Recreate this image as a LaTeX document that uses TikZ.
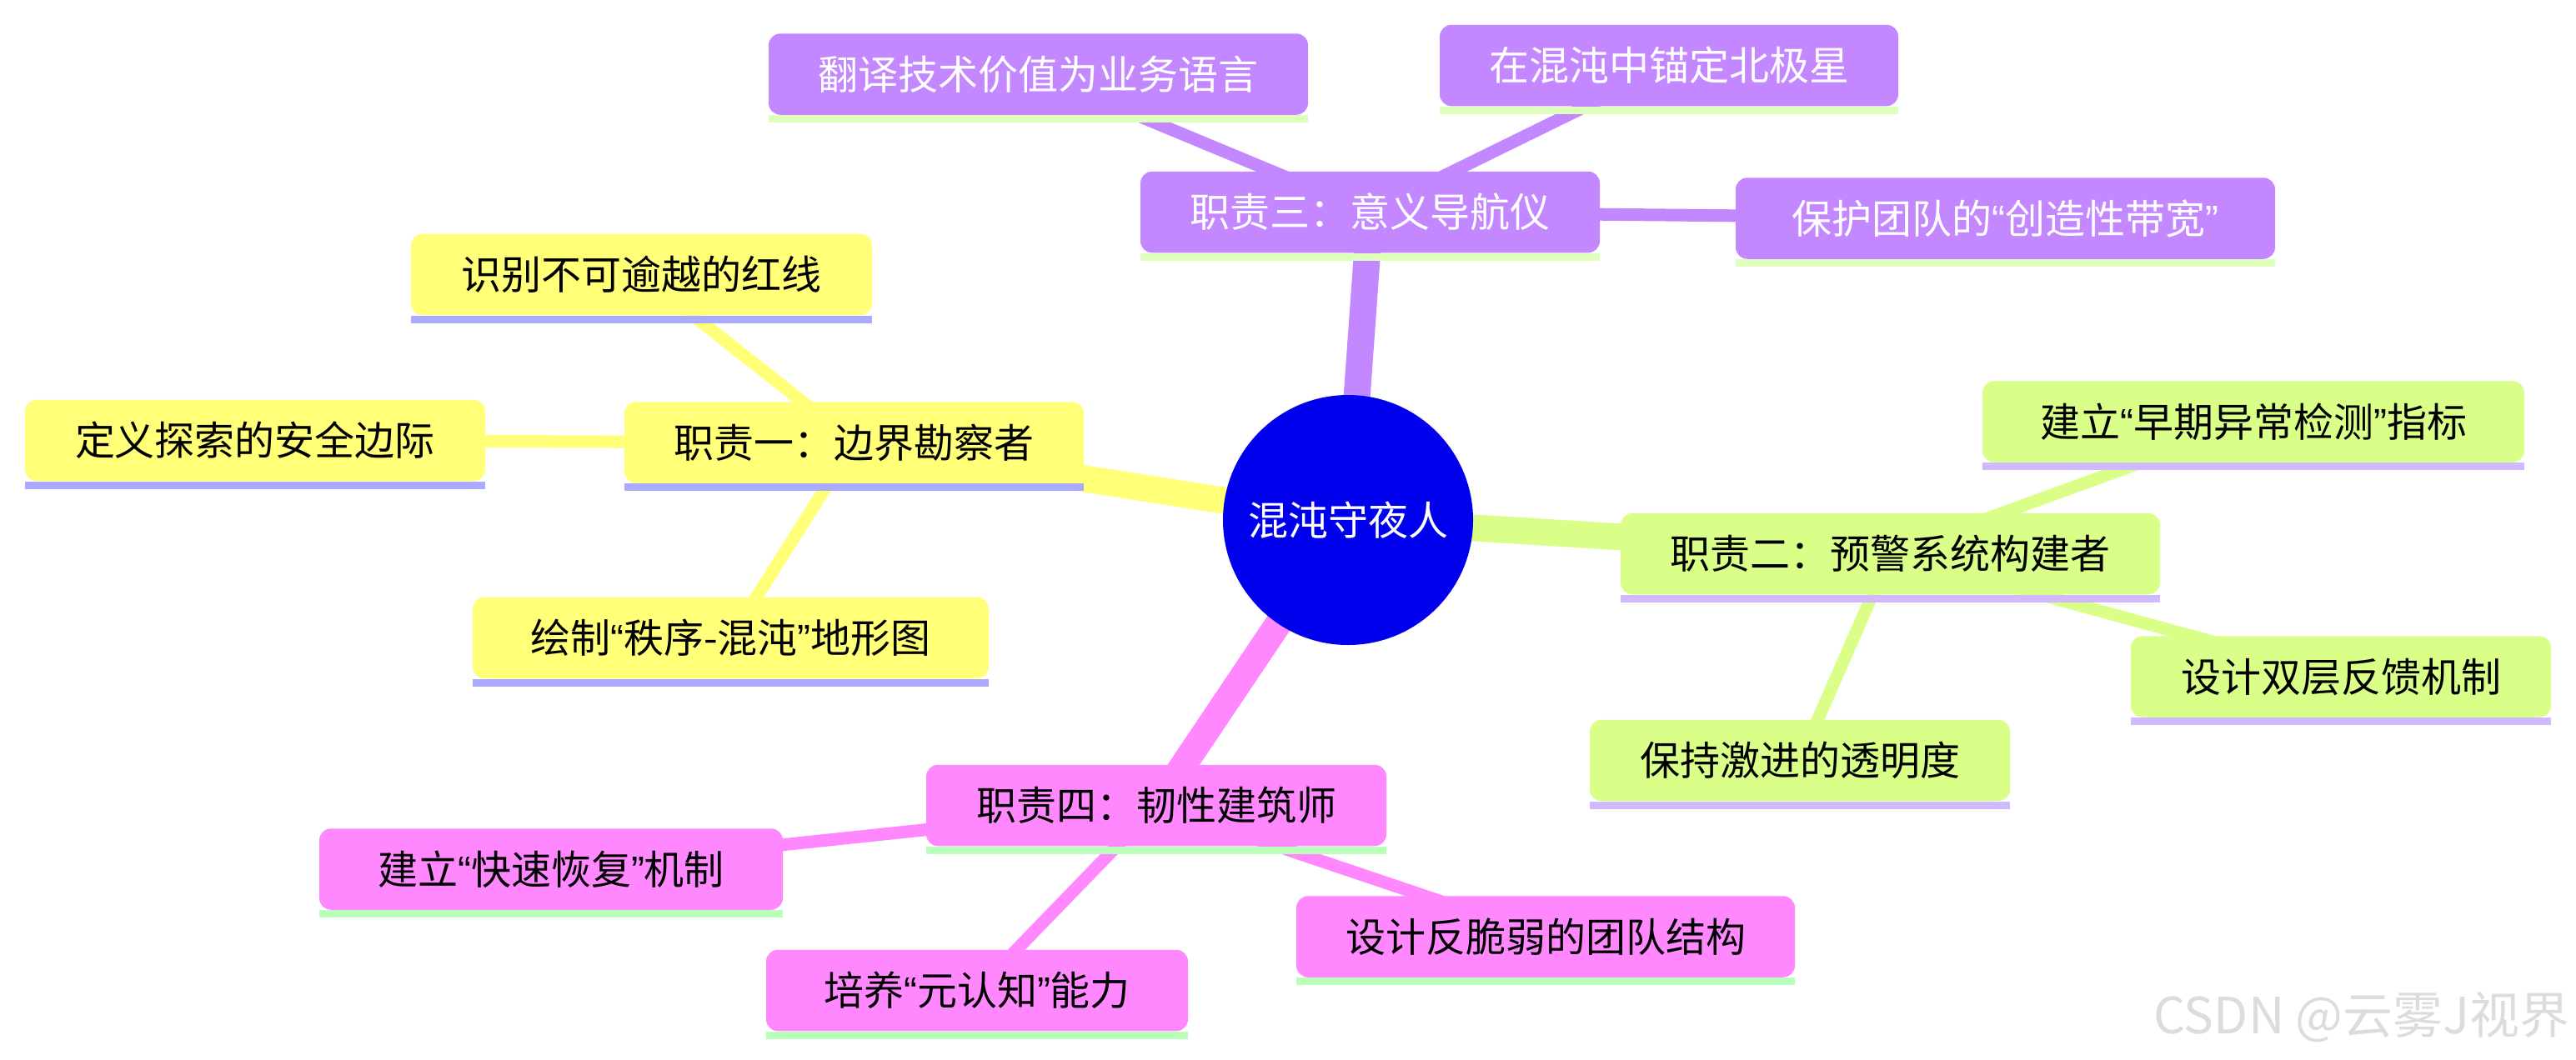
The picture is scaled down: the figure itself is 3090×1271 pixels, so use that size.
\documentclass[tikz,border=0pt]{standalone}
\usepackage{fontspec}
\setmainfont{Noto Sans CJK SC}
\newfontfamily\latf{Liberation Sans}
\newcommand\mmlq{{\latf “}}
\newcommand\mmrq{{\latf ”}}
\pgfdeclarelayer{bg}
\pgfsetlayers{bg,main}
\definecolor{secY}{HTML}{FFFF78}
\definecolor{barY}{HTML}{AAAAFF}
\definecolor{secL}{HTML}{D9FF88}
\definecolor{barL}{HTML}{D1B9FF}
\definecolor{secP}{HTML}{C387FF}
\definecolor{barP}{HTML}{DDFFBB}
\definecolor{secK}{HTML}{FF88FF}
\definecolor{barK}{HTML}{B9FFB9}
\definecolor{rootblue}{HTML}{0000EC}
\definecolor{wmark}{HTML}{DCDCDC}
\newcommand\mmbar[2]{\fill[#2] (#1.south west) rectangle ([yshift=-4.5pt]#1.south east);}
\tikzset{
  x=0.5pt, y=-0.5pt,
  box/.style={rectangle, rounded corners=7pt, minimum height=48.75pt, inner sep=0pt,
    font=\fontsize{24pt}{28pt}\selectfont},
  ybox/.style={box, fill=secY, text=black},
  lbox/.style={box, fill=secL, text=black},
  pbox/.style={box, fill=secP, text=white},
  kbox/.style={box, fill=secK, text=black},
  mainedge/.style={line width=16pt},
  subedge/.style={line width=7.5pt},
}
\begin{document}
\begin{tikzpicture}
\useasboundingbox (0,0) rectangle (3090,1271);
% root
\node[circle, fill=rootblue, text=white, minimum size=150pt, inner sep=0pt,
  font=\fontsize{24pt}{28pt}\selectfont] (root) at (1617,624) {混沌守夜人};
% section 1 (yellow)
\node[ybox, minimum width=275.5pt] (c1) at (1024.5,531) {职责一：边界勘察者};
\node[ybox, minimum width=276.5pt] (a11) at (769.5,329.5) {识别不可逾越的红线};
\node[ybox, minimum width=276pt] (a12) at (306,528.5) {定义探索的安全边际};
\node[ybox, minimum width=309.5pt] (a13) at (876.5,765.5) {绘制\mmlq 秩序-混沌\mmrq 地形图};
% section 2 (lime)
\node[lbox, minimum width=323.5pt] (c2) at (2267.5,664.5) {职责二：预警系统构建者};
\node[lbox, minimum width=325pt] (a21) at (2703,506) {建立\mmlq 早期异常检测\mmrq 指标};
\node[lbox, minimum width=252pt] (a22) at (2808,812) {设计双层反馈机制};
\node[lbox, minimum width=252pt] (a23) at (2159,912.5) {保持激进的透明度};
% section 3 (purple)
\node[pbox, minimum width=275.5pt] (c3) at (1643.5,254.5) {职责三：意义导航仪};
\node[pbox, minimum width=323.5pt] (a31) at (1245.5,89) {翻译技术价值为业务语言};
\node[pbox, minimum width=275pt] (a32) at (2002,78.5) {在混沌中锚定北极星};
\node[pbox, minimum width=323.5pt] (a33) at (2405.5,262) {保护团队的\mmlq 创造性带宽\mmrq};
% section 4 (pink)
\node[kbox, minimum width=276pt] (c4) at (1387,966.5) {职责四：韧性建筑师};
\node[kbox, minimum width=278pt] (a41) at (661,1043) {建立\mmlq 快速恢复\mmrq 机制};
\node[kbox, minimum width=253pt] (a42) at (1172,1188.5) {培养\mmlq 元认知\mmrq 能力};
\node[kbox, minimum width=299pt] (a43) at (1854,1124) {设计反脆弱的团队结构};
% bottom bars
\mmbar{c1}{barY}\mmbar{a11}{barY}\mmbar{a12}{barY}\mmbar{a13}{barY}
\mmbar{c2}{barL}\mmbar{a21}{barL}\mmbar{a22}{barL}\mmbar{a23}{barL}
\mmbar{c3}{barP}\mmbar{a31}{barP}\mmbar{a32}{barP}\mmbar{a33}{barP}
\mmbar{c4}{barK}\mmbar{a41}{barK}\mmbar{a42}{barK}\mmbar{a43}{barK}
% edges
\begin{pgfonlayer}{bg}
\draw[mainedge, secY] (root.center) -- (c1.center);
\draw[mainedge, secL] (root.center) -- (c2.center);
\draw[mainedge, secP] (root.center) -- (c3.center);
\draw[mainedge, secK] (root.center) -- (c4.center);
\draw[subedge, secY] (c1.center) -- (a11.center);
\draw[subedge, secY] (c1.center) -- (a12.center);
\draw[subedge, secY] (c1.center) -- (a13.center);
\draw[subedge, secL] (c2.center) -- (a21.center);
\draw[subedge, secL] (c2.center) -- (a22.center);
\draw[subedge, secL] (c2.center) -- (a23.center);
\draw[subedge, secP] (c3.center) -- (a31.center);
\draw[subedge, secP] (c3.center) -- (a32.center);
\draw[subedge, secP] (c3.center) -- (a33.center);
\draw[subedge, secK] (c4.center) -- (a41.center);
\draw[subedge, secK] (c4.center) -- (a42.center);
\draw[subedge, secK] (c4.center) -- (a43.center);
\end{pgfonlayer}
% watermark
\node[anchor=east, text=wmark, inner sep=0pt, font=\fontsize{30pt}{34pt}\selectfont] (wm) at (3083,1221) {CSDN @云雾J视界};
\end{tikzpicture}
\end{document}
